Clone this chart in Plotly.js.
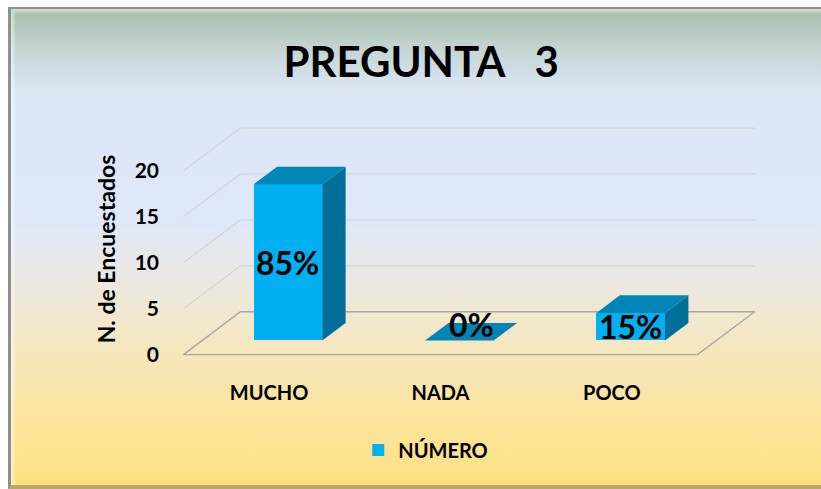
<!DOCTYPE html>
<html>
<head>
<meta charset="utf-8">
<script src="https://cdn.plot.ly/plotly-3.0.1.min.js"></script>
<style>
  html, body { margin: 0; padding: 0; background: #ffffff; }
  #frame {
    position: absolute; left: 8px; top: 7px; width: 813px; height: 476px;
    border-left: 3px solid #8f8f8f; border-top: 2px solid #8f8f8f; border-bottom: 4px solid #b9a66a;
    background: linear-gradient(to bottom, #a6bda6 0%, #c3d4d2 8%, #dce6f5 17%, #dfe8f9 45%, #e9e8e6 55%, #f2e8cf 65%, #f8e5ad 78%, #fce496 90%, #fde07f 100%);
    box-shadow: inset 3px 3px 3px rgba(255,255,255,0.5);
  }
  #chart { position: absolute; left: 0; top: 0; width: 821px; height: 489px; }
</style>
</head>
<body>
<div id="frame"></div>
<div id="chart"></div>
<script>
// ---- data ----
const categories = ['MUCHO', 'NADA', 'POCO'];
const values = [17, 0, 3];
const pctLabels = ['85%', '0%', '15%'];
const yTickVals = [0, 5, 10, 15, 20];
const seriesName = 'NÚMERO';
const chartTitle = 'PREGUNTA\u00A0\u00A0\u00A03';
const yTitle = 'N. de Encuestados';

// ---- 3D projection style constants (depth offsets in axis units) ----
const DX = 0.333, DY = 4.67;      // full-depth offset of the floor
const D_FRONT = 0.33, D_BACK = 0.74; // bar depth position
const BAR_W = 0.40;
const X_MIN = -0.5, X_MAX = 2.5;

const FONT = 'Lato, "Open Sans", sans-serif';
const xs = categories.map((c, i) => i);
const base = D_FRONT * DY;
const ddx = (D_BACK - D_FRONT) * DX, ddy = (D_BACK - D_FRONT) * DY;

// grid lines & floor as shapes (below bars)
const shapes = [];
yTickVals.forEach(v => {
  shapes.push({
    type: 'path', xref: 'x', yref: 'y', layer: 'below',
    path: `M ${X_MIN},${v} L ${X_MIN + DX},${v + DY} L ${X_MAX + DX},${v + DY}`,
    line: { color: v === 0 ? '#a6a6a6' : '#d3d3d3', width: 1.3 }
  });
});
shapes.push({
  type: 'path', xref: 'x', yref: 'y', layer: 'below',
  path: `M ${X_MIN},0 L ${X_MAX},0 L ${X_MAX + DX},${DY}`,
  line: { color: '#a6a6a6', width: 1.3 }
});

// front faces: bar trace
const barTrace = {
  type: 'bar', name: seriesName,
  x: xs.map(i => i + D_FRONT * DX), y: values,
  base: values.map(() => base), width: BAR_W,
  marker: { color: '#00b0f0', line: { width: 0 } },
  hoverinfo: 'skip', showlegend: true
};

// top & side faces
const topX = [], topY = [], sideX = [], sideY = [];
xs.forEach((i, k) => {
  const xl = i + D_FRONT * DX - BAR_W / 2, xr = xl + BAR_W;
  const top = base + values[k];
  topX.push(xl, xr, xr + ddx, xl + ddx, xl, null);
  topY.push(top, top, top + ddy, top + ddy, top, null);
  sideX.push(xr, xr, xr + ddx, xr + ddx, xr, null);
  sideY.push(base, top, top + ddy, base + ddy, base, null);
});
const sideTrace = {
  type: 'scatter', mode: 'lines', x: sideX, y: sideY, fill: 'toself',
  fillcolor: '#00709a', line: { width: 0, color: '#00709a' }, hoverinfo: 'skip', showlegend: false
};
const topTrace = {
  type: 'scatter', mode: 'lines', x: topX, y: topY, fill: 'toself',
  fillcolor: '#0086b6', line: { width: 0, color: '#0086b6' }, hoverinfo: 'skip', showlegend: false
};

// data labels
const annotations = xs.map((i, k) => {
  const onFront = values[k] > 0;
  return {
    x: i + D_FRONT * DX + (onFront ? 0 : ddx / 2),
    y: onFront ? base + values[k] / 2 : base + ddy / 2,
    yshift: onFront ? 0 : 7,
    xref: 'x', yref: 'y', text: pctLabels[k], showarrow: false,
    font: { family: FONT, size: 32, color: '#000', weight: 700 }
  };
});

const layout = {
  width: 821, height: 489,
  margin: { l: 180, r: 60, t: 125, b: 116 },
  paper_bgcolor: 'rgba(0,0,0,0)', plot_bgcolor: 'rgba(0,0,0,0)',
  title: {
    text: chartTitle, xref: 'container', yref: 'container',
    x: 0.513, xanchor: 'center', y: 0.873, yanchor: 'middle',
    font: { family: FONT, size: 42, color: '#000', weight: 700 }
  },
  xaxis: {
    range: [-0.52, 2.87], tickvals: xs, ticktext: categories,
    showgrid: false, zeroline: false, showline: false, ticks: '',
    ticklabelstandoff: 6,
    tickfont: { family: FONT, size: 20, color: '#000', weight: 700 }
  },
  yaxis: {
    range: [-2, 25], tickvals: yTickVals, ticktext: yTickVals.map(String),
    showgrid: false, zeroline: false, showline: false, ticks: '',
    ticklabelstandoff: 20,
    tickfont: { family: FONT, size: 21, color: '#000', weight: 700 },
    title: { text: yTitle, standoff: 12, font: { family: FONT, size: 23, color: '#000', weight: 700 } }
  },
  showlegend: true,
  legend: {
    orientation: 'h', x: 0.423, xanchor: 'center', y: -0.31, yanchor: 'middle',
    bgcolor: 'rgba(0,0,0,0)', font: { family: FONT, size: 20, color: '#000', weight: 700 }
  },
  shapes: shapes,
  annotations: annotations,
  bargap: 0
};

Plotly.newPlot('chart', [barTrace, sideTrace, topTrace], layout, { displayModeBar: false, staticPlot: true });
</script>
</body>
</html>
